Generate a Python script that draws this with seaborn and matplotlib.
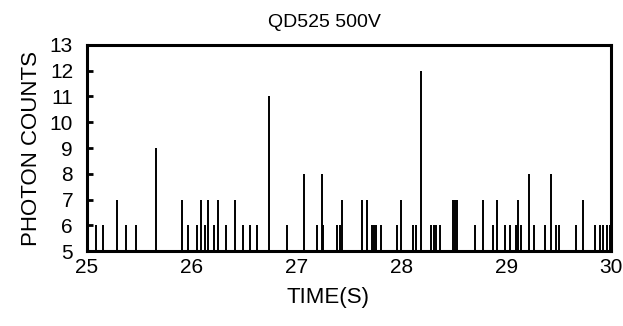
import matplotlib
matplotlib.use("Agg")
import matplotlib.pyplot as plt
import seaborn as sns
import pandas as pd

# Photon arrival events: time (s) and photon counts per bin
times = [25.086, 25.15, 25.29, 25.375, 25.47, 25.66, 25.907, 25.96, 26.047, 26.085,
         26.126, 26.152, 26.209, 26.255, 26.326, 26.412, 26.489, 26.555, 26.619, 26.737,
         26.908, 27.071, 27.195, 27.239, 27.255, 27.39, 27.414, 27.433, 27.621, 27.675,
         27.724, 27.74, 27.755, 27.802, 27.958, 28.0, 28.11, 28.135, 28.19, 28.287,
         28.311, 28.333, 28.368, 28.492, 28.511, 28.53, 28.705, 28.777, 28.879, 28.912,
         28.989, 29.039, 29.093, 29.113, 29.141, 29.218, 29.265, 29.367, 29.425, 29.478,
         29.504, 29.669, 29.73, 29.85, 29.898, 29.921, 29.962, 29.99]
counts = [6, 6, 7, 6, 6, 9, 7, 6, 6, 7,
          6, 7, 6, 7, 6, 7, 6, 6, 6, 11,
          6, 8, 6, 8, 6, 6, 6, 7, 7, 7,
          6, 6, 6, 6, 6, 7, 6, 6, 12, 6,
          6, 6, 6, 7, 7, 7, 6, 7, 6, 7,
          6, 6, 6, 7, 6, 8, 6, 6, 8, 6,
          6, 6, 7, 6, 6, 6, 6, 6]
x_ticks = [25, 26, 27, 28, 29, 30]
y_ticks = [5, 6, 7, 8, 9, 10, 11, 12, 13]
baseline = 5

df = pd.DataFrame({"time": times, "counts": counts})

sns.set_theme(style="ticks", rc={"text.color": "black", "axes.labelcolor": "black",
                                 "xtick.color": "black", "ytick.color": "black",
                                 "axes.edgecolor": "black"})
plt.rcParams["font.family"] = ["Liberation Sans", "DejaVu Sans"]

fig = plt.figure(figsize=(6.23, 3.26), dpi=100)
ax = fig.add_axes([0.1396, 0.230, 0.8411, 0.632])

ax.vlines(df["time"], baseline, df["counts"], color="black", linewidth=1.4)

ax.set_xlim(25, 30)
ax.set_ylim(5, 13)
ax.set_xticks(x_ticks)
ax.set_yticks(y_ticks)
ax.tick_params(axis="both", direction="in", length=4, width=2, colors="black",
               labelsize=15)
ax.tick_params(axis="y", pad=10)
ax.tick_params(axis="x", length=0, pad=5)
for s in ax.spines.values():
    s.set_linewidth(2.2)
    s.set_color("black")

ax.set_title("QD525 500V", fontsize=14, pad=13, x=0.454, color="black")
ax.set_xlabel("TIME(S)", fontsize=16, color="black")
ax.set_ylabel("PHOTON COUNTS", fontsize=16, color="black")
ax.xaxis.set_label_coords(0.46, -0.175)
ax.yaxis.set_label_coords(-0.085, 0.50)

fig.savefig("out.png", dpi=100, facecolor="white")
